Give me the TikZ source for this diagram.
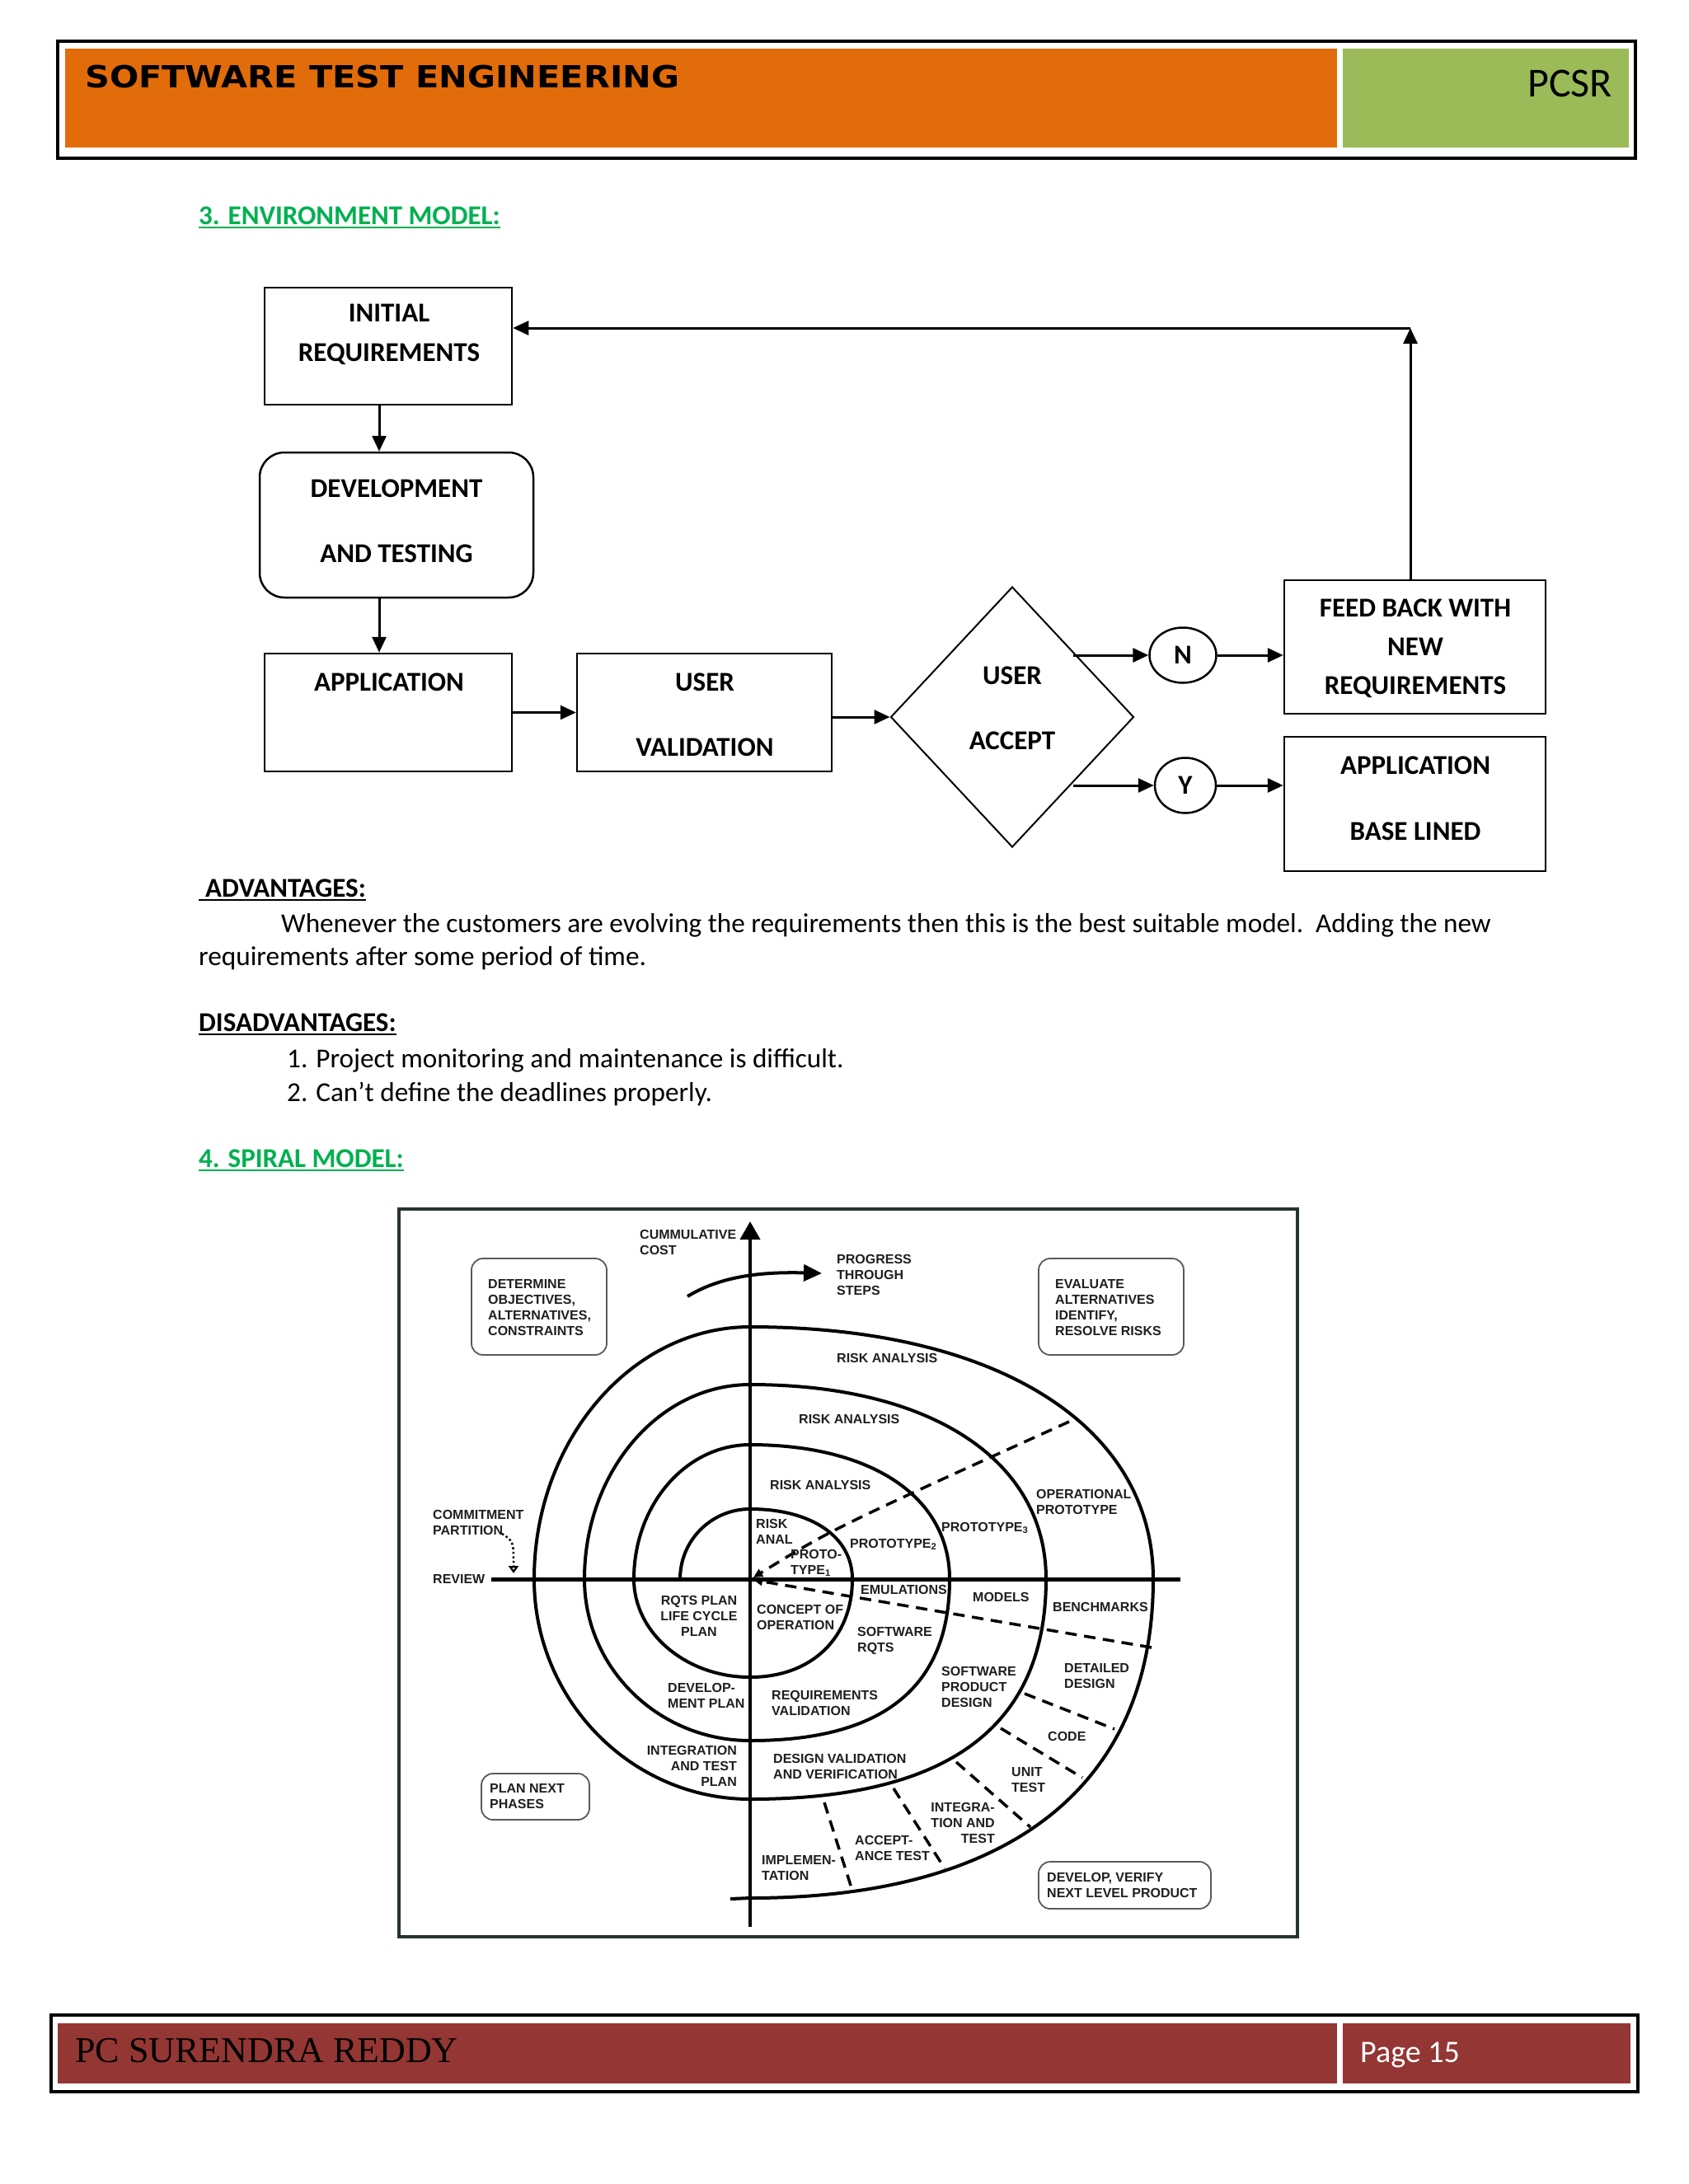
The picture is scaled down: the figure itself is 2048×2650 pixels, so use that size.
\documentclass[tikz,border=0pt]{standalone}
\usepackage{fontspec}
\usepackage{graphicx}
\setmainfont{Carlito}
\newfontfamily\arialf{Liberation Sans}
\newfontfamily\titlef{DejaVu Sans}
\newfontfamily\timesf{Liberation Serif}
\usetikzlibrary{arrows.meta,shapes.geometric}
\definecolor{hdrorange}{HTML}{E36C0A}
\definecolor{hdrgreen}{HTML}{9BBB59}
\definecolor{ftrred}{HTML}{943634}
\definecolor{headgreen}{HTML}{00B050}
\definecolor{imgframe}{HTML}{26332F}
\tikzset{
  fbox/.style={draw, line width=2.5pt, inner sep=0pt},
  ftxt/.style={font=\bfseries\fontsize{33}{48}\selectfont, align=center, inner sep=0pt},
  farr/.style={line width=3pt, -{Triangle[length=19pt,width=17pt]}},
  btxt/.style={font=\fontsize{33.2}{40}\selectfont, inner sep=0pt, anchor=base west},
  bhead/.style={font=\bfseries\fontsize{33}{40}\selectfont, inner sep=0pt, anchor=base west},
  ulne/.style={line width=2.5pt},
  slab/.style={font=\arialf\bfseries\fontsize{16}{19}\selectfont, inner sep=0pt, align=left, anchor=north west, text=black!88},
  sbox/.style={draw=black!65, line width=1.8pt, rounded corners=14pt, inner sep=0pt},
  spir/.style={line width=4pt},
  sdash/.style={line width=3.5pt, dash pattern=on 14pt off 9pt},
}
\begin{document}
\begin{tikzpicture}[x=1pt,y=-1pt]
\useasboundingbox[fill=white] (0,0) rectangle (2048,2650);

% ---------------- header ----------------
\fill[hdrorange] (79,59) rectangle (1622,179);
\fill[hdrgreen] (1629,59) rectangle (1976,179);
\draw[line width=3.5pt] (70,50) rectangle (1984,192);
\node[inner sep=0pt, anchor=base west, font=\titlef\bfseries\fontsize{37}{40}\selectfont] (title) at (103,106) {\scalebox{1.12}[1]{SOFTWARE TEST ENGINEERING}};
\node[inner sep=0pt, anchor=base east, font=\fontsize{50}{56}\selectfont] (pcsr) at (1956,117) {PCSR};

% ---------------- headings / body ----------------
\node[bhead, text=headgreen] (h3) at (241,272) {3. ENVIRONMENT MODEL:};
\draw[ulne, headgreen] ([yshift=-4pt]h3.base west) -- ([yshift=-4pt]h3.base east);

% ---------------- environment model flow ----------------
\node[fbox, minimum width=300pt, minimum height=142pt] (ir) at (471,420) {};
\node[ftxt] (irT) at (472,406) {INITIAL\\REQUIREMENTS};
\node[fbox, rounded corners=30pt, minimum width=332pt, minimum height=176pt] (dev) at (481,637) {};
\node[ftxt, font=\bfseries\fontsize{33}{79}\selectfont] (devT) at (481,632.5) {DEVELOPMENT\\AND TESTING};
\node[fbox, minimum width=300pt, minimum height=143pt] (app) at (471,864.5) {};
\node[ftxt] (appT) at (472,828) {APPLICATION};
\node[fbox, minimum width=309pt, minimum height=143pt] (uv) at (854.5,864.5) {};
\node[ftxt, font=\bfseries\fontsize{33}{79}\selectfont] (uvT) at (855,867.5) {USER\\VALIDATION};
\node[draw, diamond, line width=2pt, inner sep=0pt, minimum width=295pt, minimum height=316pt] (dia) at (1228,870) {};
\node[ftxt, font=\bfseries\fontsize{33}{79}\selectfont] (diaT) at (1228,859.5) {USER\\ACCEPT};
\node[draw, ellipse, line width=2.5pt, inner sep=0pt, minimum width=81pt, minimum height=67pt, font=\bfseries\fontsize{33}{40}\selectfont] (nn) at (1435,795) {N};
\node[draw, ellipse, line width=2.5pt, inner sep=0pt, minimum width=74pt, minimum height=67pt, font=\bfseries\fontsize{33}{40}\selectfont] (yy) at (1438,953) {Y};
\node[fbox, minimum width=317pt, minimum height=162pt] (fb) at (1716.5,785) {};
\node[ftxt, font=\bfseries\fontsize{33}{47}\selectfont] (fbT) at (1717,786.5) {FEED BACK WITH\\NEW\\REQUIREMENTS};
\node[fbox, minimum width=317pt, minimum height=163pt] (abl) at (1716.5,975.5) {};
\node[ftxt, font=\bfseries\fontsize{33}{80}\selectfont] (ablT) at (1717,969) {APPLICATION\\BASE LINED};
\coordinate (corner) at (1711,398);

\draw[farr] ([xshift=-11pt]ir.south) -- ([xshift=-11pt]ir.south |- dev.north);
\draw[farr] ([xshift=-21pt]dev.south) -- ([xshift=-21pt]dev.south |- app.north);
\draw[farr] (app.east) -- (uv.west);
\draw[farr] (uv.east |- dia.west) -- (dia.west);
\draw[farr] (dia.north east |- nn.west) -- (nn.west);
\draw[farr] (dia.south east |- yy.west) -- (yy.west);
\draw[farr] (nn.east) -- (nn.east -| fb.west);
\draw[farr] (yy.east) -- (yy.east -| abl.west);
\draw[farr] ([xshift=-5.5pt]fb.north) -- (corner);
\draw[farr] (corner) -- (corner -| ir.east);

% ---------------- advantages text ----------------
\node[bhead] (adv) at (249,1088) {ADVANTAGES:};
\draw[ulne] ([xshift=-8pt,yshift=-4pt]adv.base west) -- ([yshift=-4pt]adv.base east);
\node[btxt] (adv1) at (341,1131) {Whenever the customers are evolving the requirements then this is the best suitable model.\ \ Adding the new};
\node[btxt] (adv2) at (241,1171) {requirements after some period of time.};
\node[bhead] (dis) at (241,1251) {DISADVANTAGES:};
\draw[ulne] ([yshift=-4pt]dis.base west) -- ([yshift=-4pt]dis.base east);
\node[btxt] (dis1) at (348,1295) {1. Project monitoring and maintenance is difficult.};
\node[btxt] (dis2) at (348,1336) {2. Can’t define the deadlines properly.};
\node[bhead, text=headgreen] (h4) at (241,1416) {4. SPIRAL MODEL:};
\draw[ulne, headgreen] ([yshift=-4pt]h4.base west) -- ([yshift=-4pt]h4.base east);

% ---------------- spiral model ----------------
\draw[line width=4pt, imgframe] (484,1467) rectangle (1574,2350);

% axes
\draw[line width=4pt, -{Triangle[length=22pt,width=24pt]}] (910,2338) -- (910,1482);
\draw[line width=5pt] (596,1916) -- (1432,1916);

% spiral
\draw[spir] (825,1916)
 .. controls (825,1869) and (863,1831) .. (910,1831)
 .. controls (985,1831) and (1034,1865) .. (1034,1916)
 .. controls (1034,1987) and (985,2035) .. (910,2035)
 .. controls (832,2035) and (769,1981) .. (769,1916)
 .. controls (769,1826) and (832,1753) .. (910,1753)
 .. controls (1057,1753) and (1152,1816) .. (1152,1916)
 .. controls (1152,2046) and (1073,2112) .. (910,2112)
 .. controls (799,2112) and (709,2024) .. (709,1916)
 .. controls (709,1786) and (799,1680) .. (910,1680)
 .. controls (1130,1680) and (1269,1772) .. (1269,1916)
 .. controls (1269,2095) and (1151,2183) .. (910,2183)
 .. controls (766,2183) and (648,2063) .. (648,1916)
 .. controls (648,1748) and (766,1610) .. (910,1610)
 .. controls (1210,1610) and (1399,1730) .. (1399,1916)
 .. controls (1399,2165) and (1228,2303) .. (910,2303)
 -- (886,2304);

% progress arrow
\draw[line width=4pt, -{Triangle[length=22pt,width=20pt]}] (834,1573) .. controls (875,1548) and (925,1543) .. (997,1545);

% dashed dividers
\draw[sdash, -{Triangle[length=11pt,width=10pt]}] (1297,1725) .. controls (1010,1855) .. (914,1914);
\draw[sdash, -{Triangle[length=11pt,width=10pt]}] (1397,1999) -- (914,1917);
\draw[sdash] (1243,2055) -- (1352,2098);
\draw[sdash] (1214,2097) -- (1313,2157);
\draw[sdash] (1160,2138) -- (1250,2217);
\draw[sdash] (1084,2170) -- (1146,2267);
\draw[sdash] (1000,2187) -- (1034,2294);

% commitment partition dotted arrow
\draw[line width=2.5pt, dash pattern=on 2.5pt off 3pt, -{Triangle[open,length=9pt,width=12pt]}] (609,1861) .. controls (623,1870) .. (623,1909);

% boxes
\node[sbox, minimum width=164pt, minimum height=117pt] (detb) at (654,1585.5) {};
\node[sbox, minimum width=176pt, minimum height=117pt] (evab) at (1348,1585.5) {};
\node[sbox, minimum width=131pt, minimum height=56pt] (planb) at (649.5,2180) {};
\node[sbox, minimum width=209pt, minimum height=57pt] (devvb) at (1364.5,2287.5) {};
\node[slab] (detT) at (592,1552) {DETERMINE\\OBJECTIVES,\\ALTERNATIVES,\\CONSTRAINTS};
\node[slab] (evaT) at (1280,1552) {EVALUATE\\ALTERNATIVES\\IDENTIFY,\\RESOLVE RISKS};
\node[slab] (planT) at (594,2164) {PLAN NEXT\\PHASES};
\node[slab] (devvT) at (1270,2272) {DEVELOP, VERIFY\\NEXT LEVEL PRODUCT};

% labels
\node[slab] (cum) at (776,1492) {CUMMULATIVE\\COST};
\node[slab] (prog) at (1015,1522) {PROGRESS\\THROUGH\\STEPS};
\node[slab] (ra1) at (1015,1642) {RISK ANALYSIS};
\node[slab] (ra2) at (969,1716) {RISK ANALYSIS};
\node[slab] (ra3) at (934,1796) {RISK ANALYSIS};
\node[slab] (rk) at (917,1843) {RISK\\ANAL};
\node[slab] (pt1) at (959,1880) {PROTO-\\TYPE\textsubscript{1}};
\node[slab] (pt2) at (1031,1867) {PROTOTYPE\textsubscript{2}};
\node[slab] (pt3) at (1142,1847) {PROTOTYPE\textsubscript{3}};
\node[slab] (opp) at (1257,1807) {OPERATIONAL\\PROTOTYPE};
\node[slab] (emu) at (1044,1923) {EMULATIONS};
\node[slab] (mdl) at (1180,1932) {MODELS};
\node[slab] (bnc) at (1277,1944) {BENCHMARKS};
\node[slab] (cop) at (918,1947) {CONCEPT OF\\OPERATION};
\node[slab] (srq) at (1040,1974) {SOFTWARE\\RQTS};
\node[slab, align=center, anchor=north] (rqp) at (848,1936) {RQTS PLAN\\LIFE CYCLE\\PLAN};
\node[slab] (dvp) at (810,2042) {DEVELOP-\\MENT PLAN};
\node[slab] (rqv) at (936,2051) {REQUIREMENTS\\VALIDATION};
\node[slab] (spd) at (1142,2022) {SOFTWARE\\PRODUCT\\DESIGN};
\node[slab] (ddg) at (1291,2018) {DETAILED\\DESIGN};
\node[slab] (cde) at (1271,2101) {CODE};
\node[slab] (utt) at (1227,2144) {UNIT\\TEST};
\node[slab, align=right, anchor=north east] (itp) at (894,2118) {INTEGRATION\\AND TEST\\PLAN};
\node[slab] (dvv) at (938,2128) {DESIGN VALIDATION\\AND VERIFICATION};
\node[slab, align=right, anchor=north east] (itt) at (1207,2187) {INTEGRA-\\TION AND\\TEST};
\node[slab] (act) at (1037,2227) {ACCEPT-\\ANCE TEST};
\node[slab] (imp) at (924,2251) {IMPLEMEN-\\TATION};
\node[slab] (cpt) at (525,1832) {COMMITMENT\\PARTITION};
\node[slab] (rev) at (525,1910) {REVIEW};

% ---------------- footer ----------------
\fill[ftrred] (70,2455) rectangle (1622,2528);
\fill[ftrred] (1629,2455) rectangle (1978,2528);
\draw[line width=3.5pt] (62,2445) rectangle (1987,2538);
\node[inner sep=0pt, anchor=base west, font=\timesf\fontsize{44}{50}\selectfont] (auth) at (91,2502) {PC SURENDRA REDDY};
\node[inner sep=0pt, anchor=base west, text=white, font=\fontsize{38}{44}\selectfont] (page) at (1650,2502) {Page 15};
\end{tikzpicture}
\end{document}
